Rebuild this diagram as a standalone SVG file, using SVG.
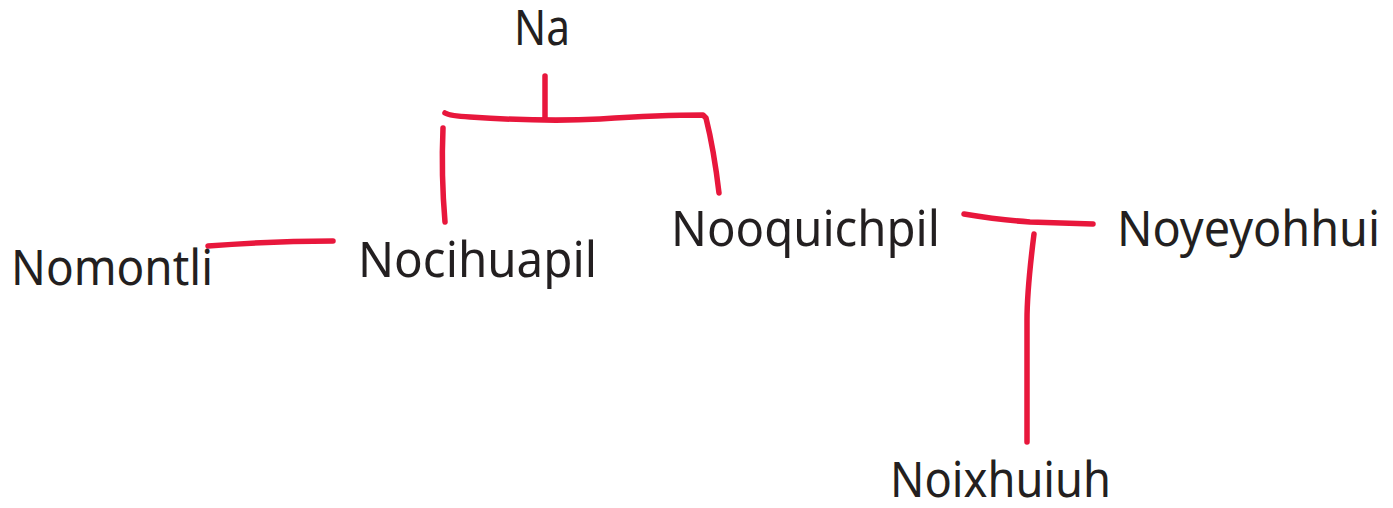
<svg xmlns="http://www.w3.org/2000/svg" width="1393" height="508" viewBox="0 0 1393 508">
<style>
.t{font-family:"Noto Sans","Open Sans",sans-serif;font-size:49px;fill:#231f20}
.c{fill:none;stroke:#e8173c;stroke-width:5.5;stroke-linecap:round;stroke-linejoin:round}
</style>
<rect width="1393" height="508" fill="#ffffff"/>
<g id="connectors">
<path class="c" d="M545 76 L545 119"/>
<path class="c" d="M445 113 Q450 116 470 117 Q545 122 600 119 Q660 115 703 115 L706 118 Q714 150 719 193"/>
<path class="c" d="M443 128 Q441 175 445 222"/>
<path class="c" d="M208 246 Q270 241 333 241"/>
<path class="c" d="M964 214 Q1000 220 1030 222 L1093 224"/>
<path class="c" d="M1034 234 Q1027 290 1027 320 L1027 442"/>
</g>
<g id="n-na"><text class="t" x="514" y="45" textLength="56" lengthAdjust="spacingAndGlyphs">Na</text></g>
<g id="n-nomontli"><text class="t" x="11" y="285" textLength="202" lengthAdjust="spacingAndGlyphs">Nomontli</text></g>
<g id="n-nocihuapil"><text class="t" x="358" y="277" textLength="239" lengthAdjust="spacingAndGlyphs">Nocihuapil</text></g>
<g id="n-nooquichpil"><text class="t" x="671" y="246" textLength="269" lengthAdjust="spacingAndGlyphs">Nooquichpil</text></g>
<g id="n-noyeyohhui"><text class="t" x="1117" y="246" textLength="263" lengthAdjust="spacingAndGlyphs">Noyeyohhui</text></g>
<g id="n-noixhuiuh"><text class="t" x="890" y="497" textLength="221" lengthAdjust="spacingAndGlyphs">Noixhuiuh</text></g>
</svg>
